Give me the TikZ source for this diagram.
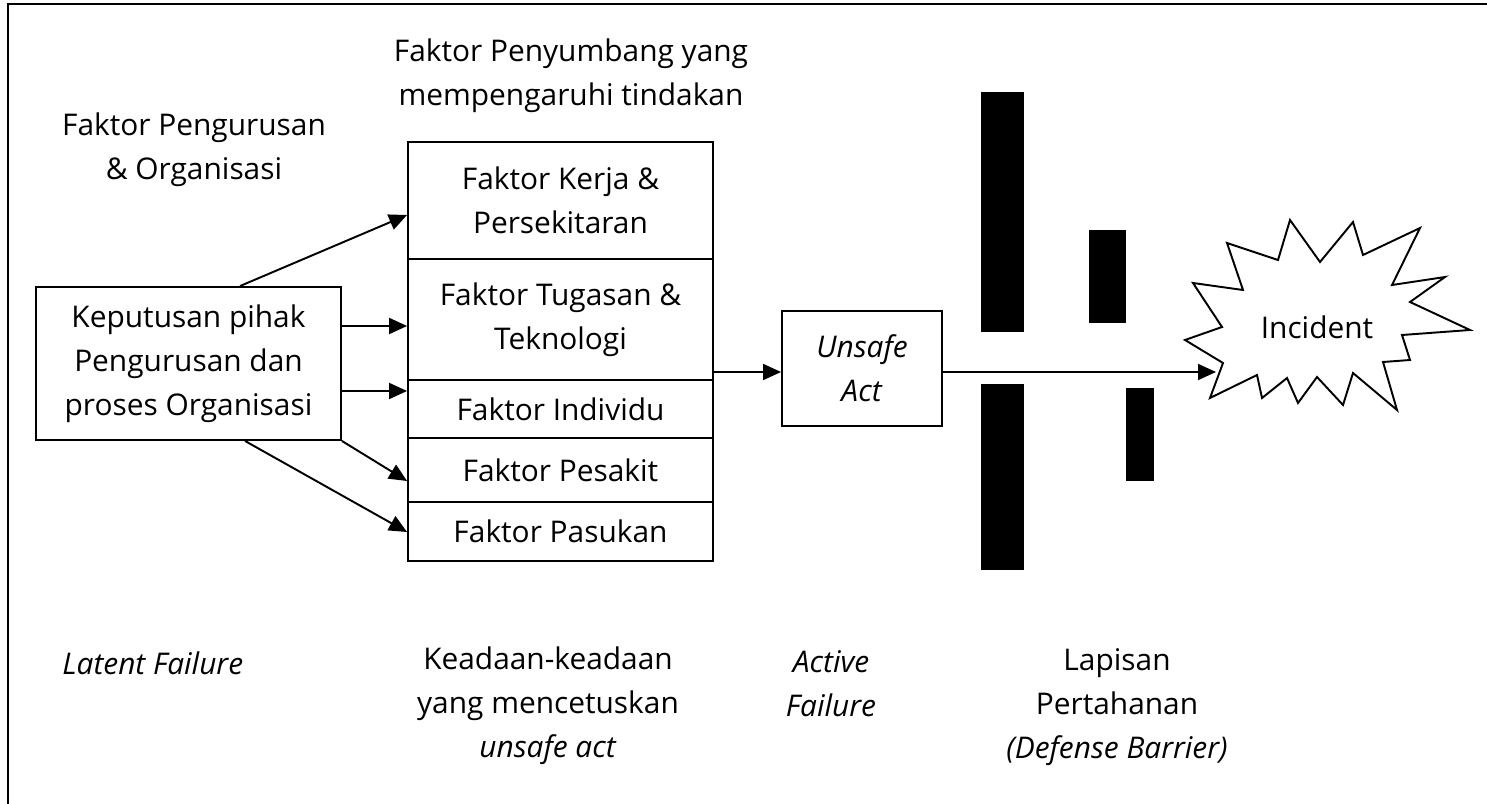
\documentclass[tikz,border=0pt]{standalone}
\usepackage{fontspec}
\setmainfont{Open Sans}
\usetikzlibrary{arrows.meta}

\tikzset{
  caja/.style={draw, line width=1.1pt, inner sep=0pt, align=center, minimum width=6.1cm},
  panah/.style={-{Triangle[length=0.36cm,width=0.32cm]}, line width=1.1pt},
  teks/.style={align=center, inner sep=0pt},
  palang/.style={fill=black},
}

\begin{document}
\begin{tikzpicture}[x=0.02cm, y=-0.02cm, font=\fontsize{17}{25}\selectfont]
                \useasboundingbox (0,0) rectangle (1487,804);

                % Marco
                \draw[line width=1.4pt] (8,804) -- (8,4) -- (1487,4);

                % Titulos
                \node[teks] (pengurusan) at (194,150) {Faktor Pengurusan\\\& Organisasi};
                \node[teks] (penyumbang) at (571,76) {Faktor Penyumbang yang\\mempengaruhi tindakan};

                % Caja de decisiones
                \node[caja, minimum height=3.06cm] (keputusan) at (188.5,363.5)
                    {Keputusan pihak\\Pengurusan dan\\proses Organisasi};

                % Pila de factores
                \node[caja, minimum height=2.34cm] (kerja) at (560.5,200.5) {Faktor Kerja \&\\Persekitaran};
                \node[caja, minimum height=2.42cm] (tugasan) at (560.5,319.5) {Faktor Tugasan \&\\Teknologi};
                \node[caja, minimum height=1.16cm] (individu) at (560.5,409) {Faktor Individu};
                \node[caja, minimum height=1.28cm] (pesakit) at (560.5,470) {Faktor Pesakit};
                \node[caja, minimum height=1.18cm] (pasukan) at (560.5,531.5) {Faktor Pasukan};

                % Unsafe act
                \node[caja, minimum width=3.2cm, minimum height=2.3cm] (unsafe) at (862,368.5)
                    {\textit{Unsafe}\\\textit{Act}};

                % Flechas hacia los factores
                \draw[panah] (keputusan.north -| 240,0) -- (kerja.west |- 0,215);
                \draw[panah] (keputusan.east |- 0,326) -- (tugasan.west |- 0,326);
                \draw[panah] (keputusan.east |- 0,391) -- (individu.west |- 0,391);
                \draw[panah] (keputusan.south east) -- (pesakit.west |- 0,481);
                \draw[panah] (keputusan.south -| 245,0) -- (pasukan.west |- 0,532);
                \draw[panah] (tugasan.east |- 0,372) -- (unsafe.west |- 0,372);

                % Barreras de defensa
                \fill[palang] (981,92) rectangle (1024,332);
                \fill[palang] (1089,230) rectangle (1126,323);
                \fill[palang] (981,384) rectangle (1024,570);
                \fill[palang] (1126,388) rectangle (1154,481);

                % Incidente
                \draw[line width=1.1pt, fill=white] (1185,340) -- (1222,327) -- (1193,283) -- (1243,290)
                    -- (1227,243) -- (1278,260) -- (1290,220) -- (1320,262) -- (1353,222)
                    -- (1363,255) -- (1420,228) -- (1392,285) -- (1445,277) -- (1410,302)
                    -- (1470,330) -- (1402,335) -- (1410,360) -- (1383,362) -- (1397,410)
                    -- (1353,373) -- (1343,405) -- (1317,377) -- (1298,403) -- (1287,378)
                    -- (1262,398) -- (1257,375) -- (1210,398) -- (1223,363) -- cycle;
                \node[teks] (incident) at (1317,327) {Incident};
                \coordinate (tiba) at (1216,372);
                \draw[panah] (unsafe.east |- tiba) -- (tiba);

                % Etiquetas inferiores
                \node[teks, anchor=west] (latent) at (62,663) {\textit{Latent Failure}};
                \node[teks] (keadaan) at (548,706) {Keadaan-keadaan\\yang mencetuskan\\\textit{unsafe act}};
                \node[teks] (active) at (831,684) {\textit{Active}\\\textit{Failure}};
                \node[teks] (lapisan) at (1117,707) {Lapisan\\Pertahanan\\\textit{(Defense Barrier)}};
            \end{tikzpicture}
\end{document}
